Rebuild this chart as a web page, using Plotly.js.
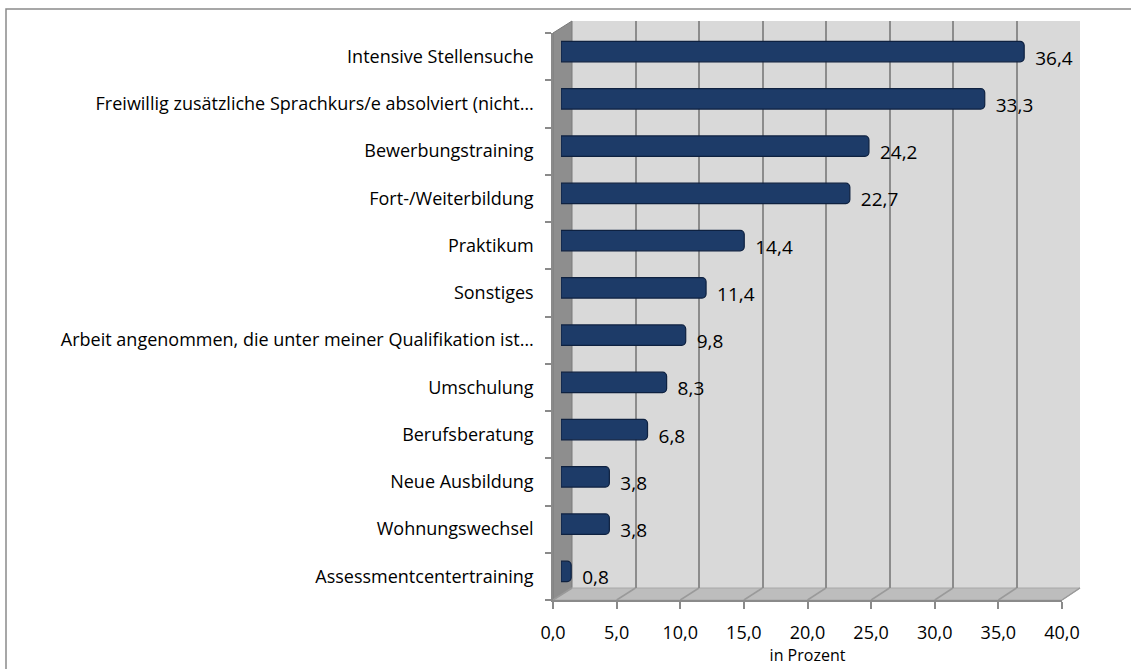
<!DOCTYPE html>
<html>
<head>
<meta charset="utf-8">
<script src="https://cdn.plot.ly/plotly-3.0.1.min.js"></script>
<style>html,body{margin:0;padding:0;background:#fff;}#chart{width:1131px;height:669px;}</style>
</head>
<body>
<div id="chart"></div>
<script>
// ---- data ----
const categories = [
  "Intensive Stellensuche",
  "Freiwillig zusätzliche Sprachkurs/e absolviert (nicht…",
  "Bewerbungstraining",
  "Fort-/Weiterbildung",
  "Praktikum",
  "Sonstiges",
  "Arbeit angenommen, die unter meiner Qualifikation ist…",
  "Umschulung",
  "Berufsberatung",
  "Neue Ausbildung",
  "Wohnungswechsel",
  "Assessmentcentertraining"
];
const values = [36.4, 33.3, 24.2, 22.7, 14.4, 11.4, 9.8, 8.3, 6.8, 3.8, 3.8, 0.8];
const xTicks = [0, 5, 10, 15, 20, 25, 30, 35, 40];
const xTitle = "in Prozent";

// ---- geometry helpers (layout only) ----
const W = 1131, H = 669;
const hx = (a, b) => [a / W, b / W];
const vy = (top, bottom) => [1 - bottom / H, 1 - top / H];
const n = categories.length;
const idxRange = [n - 0.5, -0.5];
const boundaries = [];
for (let i = 0; i <= n; i++) boundaries.push(i - 0.5);
const centers = categories.map((c, i) => i);

const BACK = {x: [572, 1080], y: [21, 588]};
const MID  = {x: [561, 1070], y: [28, 595]};
const FRONT= {x: [553, 1062], y: [33, 600]};
const LAB  = {x: [569, 1078], y: [34, 601]};

const font = "Open Sans, Lato, sans-serif";

const traces = [
  { type: 'scatter', x: [null], y: [null], xaxis: 'x', yaxis: 'y',
    hoverinfo: 'skip', showlegend: false, mode: 'markers' },
  { type: 'bar', orientation: 'h', x: values, y: categories,
    xaxis: 'x2', yaxis: 'y2', width: 0.43,
    marker: {color: '#1d3b68', line: {color: '#0e2140', width: 1.2}, cornerradius: 4},
    hoverinfo: 'x+y', showlegend: false },
  { type: 'scatter', x: [null], y: [null], xaxis: 'x3', yaxis: 'y3',
    hoverinfo: 'skip', showlegend: false, mode: 'markers' },
  { type: 'bar', orientation: 'h', x: values, y: categories,
    xaxis: 'x4', yaxis: 'y4', width: 0.9,
    marker: {color: 'rgba(0,0,0,0)'},
    text: values.map(v => v.toFixed(1).replace('.', ',')),
    textposition: 'outside', cliponaxis: false, constraintext: 'none',
    textfont: {family: font, size: 19, color: '#000'},
    hoverinfo: 'skip', showlegend: false }
];

const hidden = {showgrid: false, zeroline: false, showticklabels: false, ticks: '', showline: false};

const shapes = [
  {type: 'rect', xref: 'paper', yref: 'paper', x0: 6 / W, x1: 1140 / W, y0: -0.05, y1: 1 - 9 / H,
   line: {color: '#8a8a8a', width: 1.5}, fillcolor: 'rgba(0,0,0,0)', layer: 'below'},
  {type: 'rect', xref: 'paper', yref: 'paper', x0: BACK.x[0] / W, x1: BACK.x[1] / W,
   y0: 1 - BACK.y[1] / H, y1: 1 - BACK.y[0] / H, fillcolor: '#d9d9d9', line: {width: 0}, layer: 'below'},
  {type: 'path', xref: 'paper', yref: 'paper', layer: 'below', fillcolor: '#8e8e8e', line: {color: '#7a7a7a', width: 1},
   path: `M ${FRONT.x[0]/W} ${1-FRONT.y[0]/H} L ${BACK.x[0]/W} ${1-BACK.y[0]/H} L ${BACK.x[0]/W} ${1-BACK.y[1]/H} L ${FRONT.x[0]/W} ${1-FRONT.y[1]/H} Z`},
  {type: 'path', xref: 'paper', yref: 'paper', layer: 'below', fillcolor: '#bdbdbd', line: {color: '#a8a8a8', width: 1},
   path: `M ${FRONT.x[0]/W} ${1-FRONT.y[1]/H} L ${BACK.x[0]/W} ${1-BACK.y[1]/H} L ${BACK.x[1]/W} ${1-BACK.y[1]/H} L ${FRONT.x[1]/W} ${1-FRONT.y[1]/H} Z`}
];
xTicks.forEach(t => {
  const fb = FRONT.x[0] + (FRONT.x[1] - FRONT.x[0]) * t / 40;
  const bb = BACK.x[0] + (BACK.x[1] - BACK.x[0]) * t / 40;
  shapes.push({type: 'line', xref: 'paper', yref: 'paper', layer: 'below',
    x0: fb / W, y0: 1 - FRONT.y[1] / H, x1: bb / W, y1: 1 - BACK.y[1] / H,
    line: {color: '#9a9a9a', width: 1.5}});
});

const layout = {
  width: W, height: H,
  margin: {l: 0, r: 0, t: 0, b: 0, pad: 0},
  paper_bgcolor: '#ffffff', plot_bgcolor: 'rgba(0,0,0,0)',
  separators: ',.',
  showlegend: false,
  font: {family: font, color: '#000'},
  xaxis: Object.assign({}, hidden, {domain: hx(...BACK.x), range: [0, 40], anchor: 'y',
    showgrid: true, gridcolor: '#8c8c8c', gridwidth: 2, tickmode: 'array', tickvals: xTicks, fixedrange: true}),
  yaxis: Object.assign({}, hidden, {domain: vy(...BACK.y), range: [0, 1], anchor: 'x', fixedrange: true}),
  xaxis2: Object.assign({}, hidden, {domain: hx(...MID.x), range: [0, 40], anchor: 'y2'}),
  yaxis2: Object.assign({}, hidden, {domain: vy(...MID.y), type: 'category',
    categoryorder: 'array', categoryarray: categories, range: idxRange, anchor: 'x2'}),
  xaxis3: {domain: hx(...FRONT.x), range: [0, 40], anchor: 'y3', showgrid: false, zeroline: false,
    showline: true, linecolor: '#8a8a8a', linewidth: 1.5,
    ticks: 'outside', ticklen: 7, tickwidth: 1.5, tickcolor: '#8a8a8a',
    tickmode: 'array', tickvals: xTicks, tickformat: '.1f', ticklabelstandoff: 9,
    tickfont: {family: font, size: 18, color: '#000'},
    title: {text: xTitle, font: {family: font, size: 16, color: '#000'}, standoff: 0}},
  yaxis3: {domain: vy(...FRONT.y), type: 'linear', range: idxRange, anchor: 'x3',
    showgrid: false, zeroline: false, showline: true, linecolor: '#8a8a8a', linewidth: 1.5,
    ticks: '', tickmode: 'array', tickvals: centers, ticktext: categories, ticklabelstandoff: 14,
    tickfont: {family: font, size: 18, color: '#000'},
    minor: {tickmode: 'array', tickvals: boundaries, ticks: 'outside', ticklen: 6, tickwidth: 1.5, tickcolor: '#8a8a8a'}},
  xaxis4: Object.assign({}, hidden, {domain: hx(...LAB.x), range: [0, 40], anchor: 'y4'}),
  yaxis4: Object.assign({}, hidden, {domain: vy(...LAB.y), type: 'category',
    categoryorder: 'array', categoryarray: categories, range: idxRange, anchor: 'x4'}),
  shapes: shapes
};

Plotly.newPlot('chart', traces, layout, {displayModeBar: false});
</script>
</body>
</html>
